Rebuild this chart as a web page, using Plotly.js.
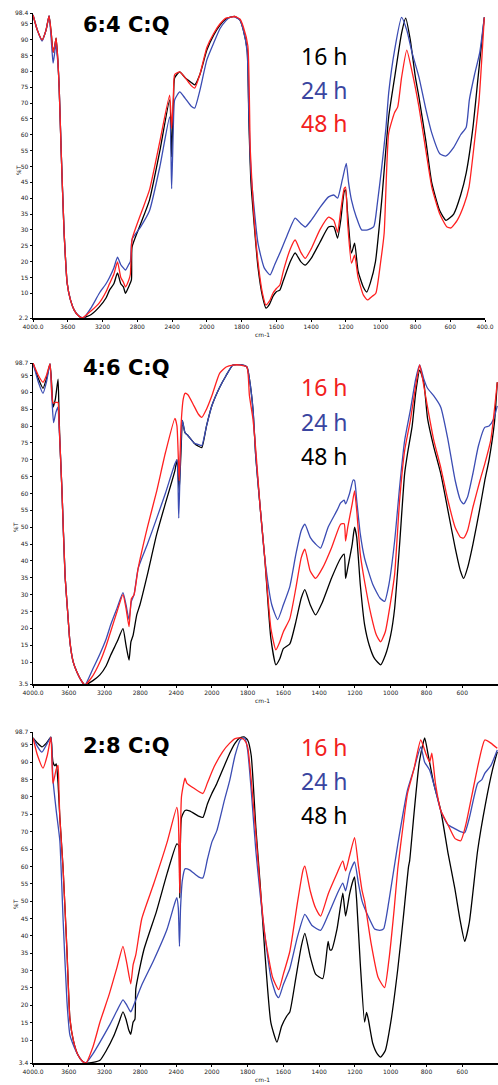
<!DOCTYPE html>
<html>
<head>
<meta charset="utf-8">
<script src="https://cdn.plot.ly/plotly-3.0.1.min.js"></script>
<style>html,body{margin:0;padding:0;background:#fff;}#chart{width:498px;height:1085px;}</style>
</head>
<body>
<div id="chart"></div>
<script>
// ---------- tick labels ----------
const xTickLabels = ['4000.0','3600','3200','2800','2400','2000','1800','1600','1400','1200','1000','800','600','400.0'];
const xTickWn = [4000,3600,3200,2800,2400,2000,1800,1600,1400,1200,1000,800,600,400];

const panelTitles = ['6:4 C:Q','4:6 C:Q','2:8 C:Q'];
const panelYMin = [2.2, 3.5, 3.4];
const panelYMax = [98.4, 98.7, 98.7];
const legendLabels = [['16 h','24 h','48 h'],['16 h','24 h','48 h'],['16 h','24 h','48 h']];

// ---------- Panel 1 (6:4 C:Q): 16 h black, 24 h blue, 48 h red ----------
const p1_wn16 = [4000,3950,3896,3850,3815,3790,3769,3750,3734,3715,3699,3676,3642,3620,3607,3570,3526,3480,3434,3330,3237,3160,3120,3070,3028,2990,2960,2936,2900,2868,2860,2760,2660,2540,2428,2405,2385,2370,2312,2250,2180,2140,2080,2000,1960,1924,1890,1868,1840,1810,1790,1768,1758,1746,1706,1680,1660,1640,1620,1600,1580,1560,1520,1492,1460,1434,1400,1350,1300,1270,1248,1230,1210,1202,1190,1168,1150,1130,1100,1080,1060,1030,994,954,920,880,856,830,800,780,740,706,660,624,580,540,508,470,440,404];
const p1_t16  = [97.8,93,89.9,93,97.5,92,86,88,90.5,84,75,55,29,18,13.2,8,4.7,3,2.2,3.3,5.7,8.5,11,13,16.4,13,12,10,12,14.2,24.6,32,39.4,55,71,53,70,78,79.8,78,76.5,75.7,79,86.7,91.5,94.6,96.5,97,97.3,96.2,93,86.7,63.7,44.8,18.3,9,5.3,6.5,9,10.5,11,14,20,22.7,20,18.9,21,26,30.9,31,27.4,33,42,42.6,35,22.7,25.8,17,12,10.4,13.2,20,39.4,65.6,78,92,96.8,90,78,71.9,58,44.8,36,33,35,41,48,62,78,97];
const p1_wn24 = [4000,3950,3896,3850,3815,3790,3769,3750,3740,3715,3699,3676,3642,3620,3607,3570,3526,3470,3420,3330,3237,3160,3120,3070,3028,2990,2960,2936,2900,2880,2860,2760,2660,2540,2428,2405,2385,2370,2312,2250,2180,2140,2080,2000,1960,1924,1890,1868,1840,1810,1790,1768,1758,1746,1706,1670,1636,1610,1580,1540,1492,1460,1434,1400,1350,1300,1270,1248,1220,1198,1185,1168,1140,1110,1075,1040,1020,994,970,954,920,880,850,820,780,740,706,660,624,580,540,508,490,460,430,404];
const p1_t24  = [97.8,93,89.5,93,97.5,90,82.6,86,89,83,75,55,29,18,13.2,8,4.7,2.8,2.2,5.5,10,13,15,18,21.4,19,18,17.3,19,20,27,31,36,50,65.6,43,63,71,73.5,71.5,69,68.4,74,83.6,89,93.5,96,97,97.2,96.2,93,86,66,48,25.8,18,15.8,19,22.7,28,33.7,32,30.9,33,37,40.4,41,40,46,51,45,39.4,34,30,30,31,38,49.8,62,73.2,86.7,97,93,86,78.2,68,60.5,54,53.3,56,60,62.4,71,79,86,97];
const p1_wn48 = [4000,3950,3896,3850,3815,3790,3769,3750,3734,3715,3699,3676,3642,3620,3607,3570,3526,3480,3434,3330,3237,3160,3120,3070,3028,2990,2960,2936,2900,2880,2860,2760,2660,2540,2428,2405,2385,2370,2312,2250,2180,2140,2080,2000,1960,1924,1890,1868,1840,1810,1790,1764,1750,1730,1706,1680,1660,1640,1620,1600,1580,1560,1520,1492,1460,1434,1400,1350,1300,1270,1248,1230,1210,1202,1190,1168,1150,1130,1100,1076,1050,1028,1000,980,954,920,902,880,850,820,780,740,706,660,620,596,560,520,492,460,434,404];
const p1_t48  = [97.8,93,89.9,93,97.5,92,86,88,90.5,84,75,55,29,18,13.2,8,4.7,3,2.2,4.5,7,10.5,13,16,19.9,15,13.5,12,14,16,27,35,42.6,58,72.5,62,72,79,79.8,78,75.5,74.7,79,87.5,92,95,96.8,97,97.3,96.5,94,88,55,35,20,10,6.3,7.5,10,11.5,12.6,17,24,26.8,23,21,24,30,34,33,29.3,36,43,43.5,32,19.5,22,15,9.5,7.9,9,10,20,29,60.5,67,68.8,78,86.7,80,68.8,55,43.5,35,31,30.6,33,38,43.5,58,71,97];

// ---------- Panel 2 (4:6 C:Q): 16 h red, 24 h blue, 48 h black ----------
const p2_wn16 = [4000,3940,3888,3850,3810,3790,3776,3740,3720,3710,3700,3676,3642,3610,3587,3550,3508,3460,3419,3330,3252,3180,3132,3060,2994,2960,2926,2900,2870,2824,2720,2616,2520,2413,2390,2365,2345,2320,2300,2268,2200,2150,2112,2060,2000,1956,1920,1882,1840,1804,1790,1770,1754,1730,1704,1670,1642,1620,1600,1564,1530,1500,1480,1450,1420,1380,1330,1280,1260,1252,1240,1215,1202,1190,1170,1146,1110,1080,1056,1030,1000,978,950,922,890,860,838,815,794,760,720,680,640,610,592,570,540,500,474,440,404];
const p2_t16  = [98.7,95,93,95,98.4,90,86.8,87,87,82,75.7,60.8,36,24,16,10,7,4.5,3.2,6,10,15,19,25,30,26,20.5,28.8,30,37.8,50,60.8,72,82.3,80,63.8,80,88,89.7,89.3,86,83.5,82.6,85,89,95.7,97.5,98.1,98.1,97.5,89.1,82,72.7,56,40.8,20,13.6,16,19,22.9,32,41,43.5,37,34.8,38,44,50.9,51,45.9,50,57,60.8,55,42,33.9,24,18,16,19,28,36,58,72.7,81.7,92,98.1,92,85.6,76,67.7,58,50,47,46.8,49,56,64,68.8,76,93];
const p2_wn24 = [4000,3940,3888,3850,3810,3790,3770,3745,3720,3710,3700,3676,3642,3610,3587,3550,3508,3460,3419,3330,3252,3180,3132,3060,2994,2960,2926,2900,2870,2824,2720,2616,2520,2413,2390,2370,2350,2330,2300,2268,2200,2150,2112,2060,2000,1956,1920,1882,1840,1804,1790,1770,1754,1730,1704,1665,1632,1600,1564,1530,1500,1480,1450,1420,1392,1350,1300,1280,1260,1252,1230,1210,1202,1190,1170,1146,1100,1060,1034,1010,978,950,922,890,860,838,815,794,760,720,680,640,610,592,570,540,510,474,450,425,404];
const p2_t24  = [98.7,93,89.7,93,98.4,89,81,84,85.6,80,75.7,60.8,36,24,16,10,7,4.5,3.2,8,12.4,17,21,26,30.6,27,22.6,28,30,37.8,45,52.7,60,68.8,70,52.7,72,81.7,78,77.2,75,74.5,74.2,80,86,91.5,95,98.1,98.2,97.5,94,85,70.6,56,40.8,27,22.6,27,32.4,42,49,50.9,47,45,43.8,50,55,57.2,58,56.9,60,64,63.8,58,48,40.8,33,29,28,33,45.9,62,75.7,84.7,94,98.1,94,91.2,89,85.6,76,64,58,56.9,59,66,74,79.6,80,82,86];
const p2_wn48 = [4000,3940,3888,3850,3810,3790,3776,3750,3720,3710,3700,3676,3642,3610,3587,3550,3508,3460,3419,3330,3252,3180,3132,3060,2994,2960,2926,2905,2880,2840,2804,2720,2616,2520,2413,2390,2365,2340,2330,2300,2268,2200,2150,2112,2060,2000,1956,1920,1882,1840,1804,1790,1770,1754,1730,1704,1670,1642,1620,1600,1564,1530,1500,1480,1450,1420,1380,1330,1280,1260,1252,1240,1215,1202,1190,1170,1146,1120,1090,1056,1030,1000,978,950,922,906,880,860,838,815,794,760,720,680,640,610,592,570,540,500,474,450,420,404];
const p2_t48  = [98.7,94,91.2,94,98.4,92,85.6,88,93.9,85,75.7,60.8,36,24,16,10,7,4.5,3.2,4.5,6.2,9,12,16,19.9,15,10.6,16,18,24,27,36,48,57,66.8,70,60.8,76,81.7,78,77.2,75,74,73.6,80,86,91.5,95,98.1,98.2,97.5,94,85,70.6,56,40.8,17,9.2,11,14,15.4,22,29,31.5,27,24,28,35,40.8,42,34.8,38,45,50,47,33,21.1,15,11,9.2,12,18,25.9,45,65.9,71.8,80,90,96.6,93,82.3,74,65.9,55,44,37,34.8,38,45,56,63.8,70,81,93];

// ---------- Panel 3 (2:8 C:Q): 16 h red, 24 h blue, 48 h black ----------
const p3_wn16 = [4000,3950,3888,3840,3800,3785,3776,3740,3720,3710,3700,3664,3620,3587,3540,3497,3450,3408,3330,3251,3150,3060,2994,2950,2907,2880,2850,2783,2650,2500,2392,2375,2359,2340,2300,2280,2200,2100,2050,1988,1940,1900,1870,1844,1820,1800,1780,1754,1730,1704,1660,1626,1600,1564,1520,1490,1480,1450,1420,1392,1350,1300,1268,1252,1230,1202,1180,1160,1146,1110,1070,1034,1010,980,960,930,906,870,832,800,782,770,750,720,680,640,608,580,540,514,490,474,440,404];
const p3_t16  = [97,92,88.3,92,97.2,88,83.9,88,89.1,82,74.1,59.6,35.5,16.1,9,5.7,4,3.4,8,15.2,23,31,37,32,26.2,31.7,34.6,45,55,67,77,74,52.3,80,85.4,84,82.5,81,84,88.6,93,95.5,96.8,97,96.5,94.4,85,69.4,54,40.4,28,24.5,29,35.5,50,59,60.1,53,48,45.7,52,58,61.6,58.7,63,68.3,60,53,50,38,28,25.1,33,48,59.6,72,81,88,96.4,92,90,92.6,84,76.1,72,68,67.4,72,82,88.6,94,96.4,95.5,94];
const p3_wn24 = [4000,3950,3900,3850,3800,3785,3776,3740,3700,3664,3620,3587,3540,3497,3450,3408,3330,3251,3150,3060,2994,2950,2907,2880,2783,2650,2500,2420,2392,2375,2362,2350,2330,2300,2250,2150,2100,2050,2000,1972,1930,1900,1870,1840,1816,1800,1780,1754,1730,1704,1670,1640,1626,1600,1564,1520,1480,1440,1392,1350,1300,1268,1252,1230,1202,1180,1160,1146,1120,1090,1062,1040,1010,960,906,870,832,810,782,750,720,680,642,610,586,560,514,490,474,440,404];
const p3_t24  = [97,94.5,92.9,95,97.2,90,84.8,76,67.4,45,21,11.4,8,5.7,4,3.4,6,9.4,14,18.5,21.6,20,18.1,19.6,25.9,33,42,49,51,48,37,48,56,59.3,59,57,56.7,62,67,70.3,79,84.8,92,96.5,97,93.5,82,64.5,52,40.4,28,23,22.2,26,30.6,40,46.2,43,41.6,46,52,55.2,53,58,61.3,55,50,48,45,42,41.6,42,50,66.5,82,88,94.4,90,87.7,82,76,72,70.9,70,69.7,74,83.9,85,86.8,89,93.5];
const p3_wn48 = [4000,3950,3900,3850,3800,3785,3776,3755,3740,3720,3700,3664,3620,3587,3550,3497,3450,3408,3330,3251,3180,3100,3040,2994,2960,2930,2907,2880,2860,2850,2760,2620,2500,2392,2370,2359,2340,2300,2250,2150,2100,2050,2000,1972,1930,1900,1870,1844,1820,1800,1780,1754,1730,1704,1670,1636,1610,1580,1564,1530,1500,1480,1450,1420,1380,1350,1340,1330,1300,1268,1260,1252,1230,1210,1202,1190,1170,1146,1135,1125,1100,1075,1056,1030,1000,960,930,900,894,870,840,810,790,760,720,680,642,610,586,560,514,470,430,404];
const p3_t48  = [97,95.5,94.4,95.5,97.2,92,90,89,89.5,84,74.1,59.6,35.5,16.1,10,5.7,4,3.4,3.6,4.2,7,11,15,18.1,16,13,11.7,15.2,16,24.8,36,47,58,66.5,66,50.9,74,76.1,76,74.5,74.1,78,81,83.9,89,92.6,95.5,97,97.3,96.4,92,71.2,55,35.5,15,9.4,14,17,18.1,28,37,40.7,34,29,27.7,38.4,36,36,42,52.3,49,45.7,52,56,57,50,32,15.2,18,16,9,6,5.1,7,15,30.6,45,60,61.6,75,90,97,92,84,76.1,64,53.8,44,38.4,44,64.5,78,88,93];

// ---------- styles ----------
const BLACK = '#000000', BLUE = '#3b4cb3', RED = '#ff2020';
const BLUE_TXT = '#3a45a0', RED_TXT = '#f22020';

// Two-scale spectrometer axis: 400 cm-1 per division above 2000, 200 below
function pos(wn){ return wn >= 2000 ? (4000 - wn) / 400 : 5 + (2000 - wn) / 200; }

const W = 498, H = 1085;
const panels = [
  {x0:33, x1:485, y0:13,  y1:318,
   series:[[p1_wn16,p1_t16,BLACK],[p1_wn24,p1_t24,BLUE],[p1_wn48,p1_t48,RED]],
   legColors:[BLACK,BLUE_TXT,RED_TXT], legY:[55,89,122], titleY:24, ytY:170, ytX:18, cmY:334},
  {x0:33, x1:498, y0:363, y1:684,
   series:[[p2_wn48,p2_t48,BLACK],[p2_wn24,p2_t24,BLUE],[p2_wn16,p2_t16,RED]],
   legColors:[RED_TXT,BLUE_TXT,BLACK], legY:[386,421,455], titleY:367, ytY:527, ytX:15, cmY:700},
  {x0:33, x1:498, y0:732, y1:1063,
   series:[[p3_wn48,p3_t48,BLACK],[p3_wn24,p3_t24,BLUE],[p3_wn16,p3_t16,RED]],
   legColors:[RED_TXT,BLUE_TXT,BLACK], legY:[746,780,814], titleY:745, ytY:904, ytX:15, cmY:1079}
];

const traces = [];
const layout = {
  width: W, height: H,
  margin: {l:0, r:0, t:0, b:0},
  paper_bgcolor: '#ffffff', plot_bgcolor: '#ffffff',
  showlegend: false,
  font: {family: 'DejaVu Sans, sans-serif', color: '#000'},
  annotations: []
};

panels.forEach((p, i) => {
  const n = i === 0 ? '' : String(i + 1);
  const xa = 'x' + n, ya = 'y' + n;
  p.series.forEach(s => {
    traces.push({
      type: 'scatter', mode: 'lines',
      x: s[0].map(pos), y: s[1],
      xaxis: xa, yaxis: ya,
      line: {color: s[2], width: 1.3, shape: 'spline', smoothing: 0.5},
      cliponaxis: false,
      hoverinfo: 'skip'
    });
  });
  const yTicks = [panelYMin[i]];
  const yText = [String(panelYMin[i])];
  for (let v = 10; v <= 95; v += 5) { yTicks.push(v); yText.push(String(v)); }
  yTicks.push(panelYMax[i]); yText.push(String(panelYMax[i]));

  layout['xaxis' + n] = {
    domain: [p.x0 / W, p.x1 / W], anchor: ya,
    range: [0, 13], showgrid: false, zeroline: false,
    showline: true, linecolor: '#000', linewidth: 1.5,
    ticks: 'outside', ticklen: 2, tickwidth: 1, tickcolor: '#000',
    tickvals: xTickWn.map(pos), ticktext: xTickLabels,
    tickfont: {size: 6, color: '#222'}, fixedrange: true
  };
  layout['yaxis' + n] = {
    domain: [1 - p.y1 / H, 1 - p.y0 / H], anchor: xa,
    range: [panelYMin[i], panelYMax[i]], showgrid: false, zeroline: false,
    showline: true, linecolor: '#000', linewidth: 1.5,
    ticks: 'outside', ticklen: 2, tickwidth: 1, tickcolor: '#000',
    tickvals: yTicks, ticktext: yText,
    tickfont: {size: 6, color: '#222'}, fixedrange: true
  };

  // panel title
  layout.annotations.push({
    xref: 'paper', yref: 'paper', x: 81 / W, y: 1 - (p.titleY + 1) / H,
    xanchor: 'left', yanchor: 'middle', showarrow: false,
    text: '<b>' + panelTitles[i] + '</b>',
    font: {family: 'DejaVu Sans, sans-serif', size: 21, color: '#000'}
  });
  // legend text
  legendLabels[i].forEach((lab, k) => {
    layout.annotations.push({
      xref: 'paper', yref: 'paper', x: 299 / W, y: 1 - (p.legY[k] + 1) / H,
      xanchor: 'left', yanchor: 'middle', showarrow: false,
      text: lab,
      font: {family: 'Noto Sans, Open Sans, sans-serif', size: 23, color: p.legColors[k]}
    });
  });
  // y axis title
  layout.annotations.push({
    xref: 'paper', yref: 'paper', x: p.ytX / W, y: 1 - p.ytY / H,
    xanchor: 'center', yanchor: 'middle', showarrow: false, textangle: -90,
    text: '%T', font: {size: 6, color: '#222'}
  });
  // x axis title
  layout.annotations.push({
    xref: 'paper', yref: 'paper', x: 253 / W, y: 1 - p.cmY / H,
    xanchor: 'left', yanchor: 'middle', showarrow: false,
    text: 'cm-1', font: {size: 6, color: '#222'}
  });
});

Plotly.newPlot('chart', traces, layout, {staticPlot: true, displayModeBar: false});
</script>
</body>
</html>
